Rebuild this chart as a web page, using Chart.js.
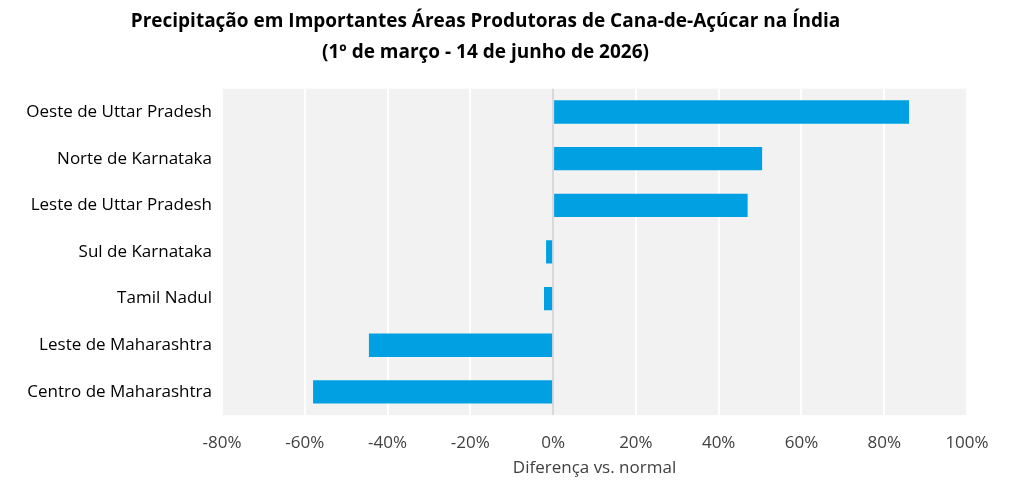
<!DOCTYPE html>
<html>
<head>
<meta charset="utf-8">
<script src="https://cdn.jsdelivr.net/npm/chart.js@4"></script>
<style>
  html, body { margin: 0; padding: 0; background: #ffffff; }
  #wrap { width: 1029px; height: 504px; position: relative; }
</style>
</head>
<body>
<div id="wrap"><canvas id="chart" width="1029" height="504"></canvas></div>
<script>
// 地域ラベルと平年比の差（%）
const regions = [
    'Oeste de Uttar Pradesh',
    'Norte de Karnataka',
    'Leste de Uttar Pradesh',
    'Sul de Karnataka',
    'Tamil Nadul',
    'Leste de Maharashtra',
    'Centro de Maharashtra'
];
const diffValues = [86, 50.5, 47, -1.7, -2.2, -44.5, -58];

// プロット領域の背景
const plotBg = {
    id: 'plotBg',
    beforeDraw(chart) {
        const { ctx, chartArea: a } = chart;
        ctx.save();
        ctx.fillStyle = '#f2f2f2';
        ctx.fillRect(a.left, a.top, a.right - a.left, a.bottom - a.top);
        ctx.restore();
    }
};

Chart.defaults.font.family = "'Open Sans', sans-serif";

new Chart(document.getElementById('chart'), {
    type: 'bar',
    data: {
        labels: regions,
        datasets: [{
            data: diffValues,
            backgroundColor: '#00a0e3',
            barPercentage: 0.5,
            categoryPercentage: 1
        }]
    },
    options: {
        indexAxis: 'y',
        responsive: false,
        animation: false,
        layout: { padding: { left: 4, right: 62, top: 0, bottom: 26 } },
        plugins: {
            legend: { display: false },
            title: {
                display: true,
                text: ['Precipitação em Importantes Áreas Produtoras de Cana-de-Açúcar na Índia',
                       '(1º de março - 14 de junho de 2026)'],
                color: '#000000',
                font: { size: 19, weight: 'bold', lineHeight: 1.65 },
                padding: { top: 6, bottom: 20 }
            }
        },
        scales: {
            x: {
                min: -80,
                max: 100,
                ticks: {
                    stepSize: 20,
                    color: '#404040',
                    font: { size: 17 },
                    padding: 18,
                    callback: v => v + '%'
                },
                grid: {
                    color: ctx => ctx.tick.value === 0 ? '#d9d9d9' : '#ffffff',
                    lineWidth: 2,
                    drawTicks: false
                },
                border: { display: false },
                title: {
                    display: true,
                    text: 'Diferença vs. normal',
                    color: '#404040',
                    font: { size: 17 },
                    padding: { top: -14, bottom: 0 }
                }
            },
            y: {
                afterFit(scale) { scale.width = 218; },
                ticks: { color: '#000000', font: { size: 17 }, padding: 2 },
                grid: { display: false },
                border: { display: false }
            }
        }
    },
    plugins: [plotBg]
});
</script>
</body>
</html>
